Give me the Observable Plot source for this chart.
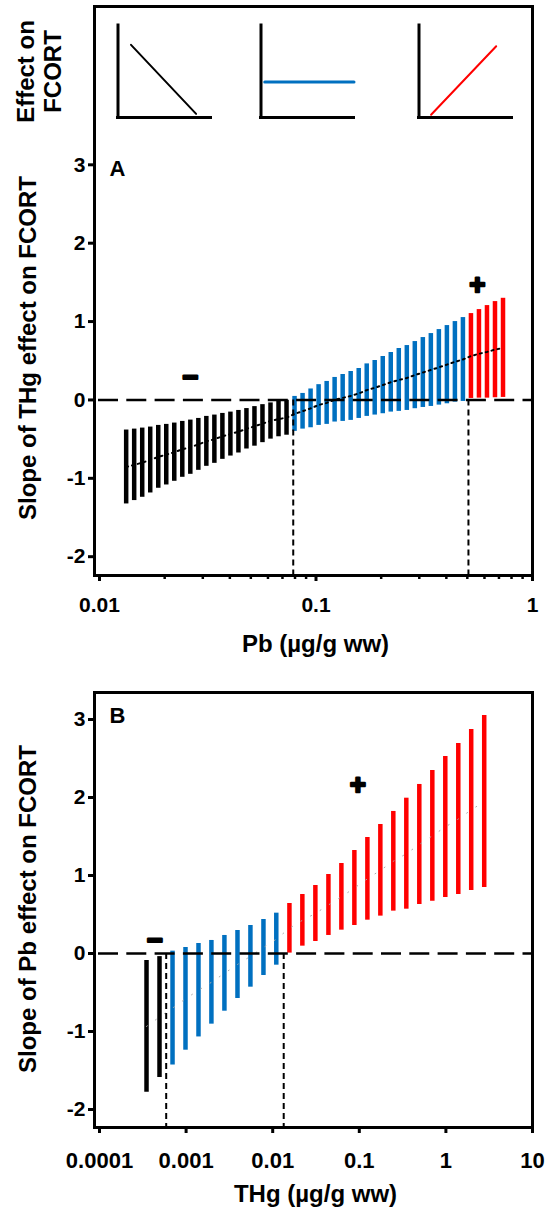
<!DOCTYPE html>
<html><head><meta charset="utf-8">
<script src="https://cdn.jsdelivr.net/npm/d3@7"></script>
<script src="https://cdn.jsdelivr.net/npm/@observablehq/plot@0.6"></script>
<style>
body{margin:0;background:#fff;}
#wrap{position:relative;width:551px;height:1213px;font-family:"Liberation Sans",Arial,sans-serif;}
#wrap > svg{position:absolute;}
</style></head><body><div id="wrap"></div>
<script>
// ---------- Panel A: slope of THg effect vs Pb ----------
const pbA = [0.01328,0.01446,0.01575,0.01715,0.01868,0.02034,0.02215,0.02412,0.02627,0.02861,
  0.03115,0.03393,0.03695,0.04024,0.04382,0.04772,0.05197,0.05659,0.06163,0.06712,
  0.07309,0.0796,0.08668,0.0944,0.1028,0.112,0.1219,0.1328,0.1446,0.1575,
  0.1715,0.1867,0.2034,0.2215,0.2412,0.2627,0.286,0.3115,0.3392,0.3694,
  0.4023,0.4381,0.4771,0.5196,0.5658,0.6162,0.671,0.7308];
const hiA = [-0.384,-0.372,-0.359,-0.346,-0.325,-0.312,-0.295,-0.274,-0.257,-0.236,
  -0.210,-0.193,-0.172,-0.155,-0.134,-0.110,-0.085,-0.060,-0.038,-0.018,
  -0.004,0.045,0.083,0.140,0.195,0.236,0.287,0.325,0.363,0.401,
  0.460,0.503,0.554,0.605,0.656,0.694,0.745,0.796,0.847,0.898,
  0.949,1.000,1.051,1.102,1.153,1.204,1.255,1.297];
const loA = [-1.327,-1.284,-1.242,-1.187,-1.127,-1.085,-1.038,-0.987,-0.949,-0.898,
  -0.847,-0.809,-0.758,-0.716,-0.677,-0.626,-0.590,-0.545,-0.500,-0.470,
  -0.450,-0.401,-0.372,-0.355,-0.325,-0.312,-0.282,-0.274,-0.261,-0.236,
  -0.210,-0.193,-0.176,-0.155,-0.146,-0.134,-0.112,-0.096,-0.083,-0.066,
  -0.049,-0.028,-0.019,0.019,0.023,0.023,0.028,0.032];
const cutA = [0.0785, 0.506];
const xTicksA = [0.01, 0.1, 1];
const xMinorA = [0.02,0.03,0.04,0.05,0.06,0.07,0.08,0.09,0.2,0.3,0.4,0.5,0.6,0.7,0.8,0.9];
const signsA = [{x:0.0263, y:0.287, t:"\u2212"}, {x:0.557, y:1.467, t:"+"}];

// ---------- Panel B: slope of Pb effect vs THg ----------
const thgB = [0.000349,0.000493,0.000697,0.000984,0.00139,0.00196,0.00277,0.00392,0.00553,0.00782,
  0.0110,0.0156,0.0220,0.0311,0.0440,0.0621,0.0877,0.124,0.175,0.247,
  0.349,0.493,0.697,0.984,1.39,1.96,2.77];
const hiB = [-0.09,-0.04,0.03,0.077,0.128,0.167,0.231,0.295,0.359,0.436,
  0.517,0.641,0.756,0.872,1.013,1.154,1.32,1.487,1.654,1.821,
  1.991,2.167,2.346,2.526,2.692,2.872,3.051];
const loB = [-1.78,-1.59,-1.43,-1.24,-1.07,-0.906,-0.74,-0.577,-0.432,-0.282,
  -0.15,0.005,0.094,0.154,0.231,0.299,0.359,0.427,0.479,0.543,
  0.568,0.628,0.671,0.718,0.756,0.808,0.846];
const cutB = [0.000589, 0.0134];
const xTicksB = [0.0001, 0.001, 0.01, 0.1, 1, 10];
const signsB = [{x:0.000437, y:0.173, t:"\u2212"}, {x:0.0961, y:2.154, t:"+"}];

const yTicks = [-2,-1,0,1,2,3];

// ---------- icons ----------
const iconDown = [{t:0.14, v:0.79}, {t:0.84, v:0.04}];
const iconFlat = [{t:0.04, v:0.385}, {t:1.0, v:0.385}];
const iconUp = [{t:0.13, v:0.03}, {t:0.83, v:0.775}];

const FONT = "Liberation Sans, Arial, Helvetica, sans-serif";
const sigOf = d => d.hi < 0 ? "neg" : d.lo > 0 ? "pos" : "ns";
const colorScale = {domain:["neg","ns","pos"], range:["#000000","#0070C0","#FF0000"]};

const dataA = pbA.map((x,i) => ({x, lo: loA[i], hi: hiA[i]})).map(d => ({...d, s: sigOf(d)}));
const dataB = thgB.map((x,i) => ({x, lo: loB[i], hi: hiB[i]})).map(d => ({...d, s: sigOf(d)}));

function panel({data, cuts, xDomain, xTicks, xMinor, yDomain, height, marginTop, marginBottom,
                 signs, tickPad, xTitle, yTitle, yTitleDy, letter, letterDy, xTitleDy, dotted, xFont}) {
  const marks = [
    Plot.ruleX(data, {x:"x", y1:"lo", y2:"hi", stroke:"s", strokeWidth:4.5}),
    Plot.line(data, {x:"x", y: d => (d.lo + d.hi) / 2, ...dotted}),
    Plot.ruleY([0], {stroke:"#000", strokeWidth:2.5, strokeDasharray:"20,8.3", strokeDashoffset:-4}),
    Plot.ruleX(cuts, {y1: 0, y2: yDomain[0], stroke:"#000", strokeWidth:2, strokeDasharray:"6,4"}),
    Plot.frame({stroke:"#000", strokeWidth:3}),
    Plot.axisY({ticks: yTicks, tickSize:6, tickPadding:3, tickFormat: d => String(d),
      strokeWidth:3, fontSize:21, fontWeight:"bold", label:null}),
    Plot.axisX({ticks: xTicks, tickSize:6, tickPadding: tickPad, tickFormat: d => String(d),
      strokeWidth:3, fontSize:xFont, fontWeight:"bold", label:null}),
    Plot.text(signs, {x:"x", y:"y", text:"t", fontSize:27, fontWeight:"bold", fill:"#000",
      stroke:"#000", strokeWidth: 2.5}),
    Plot.text([yTitle], {frameAnchor:"left", dx:-66, dy:yTitleDy, rotate:-90, fontSize:24,
      fontWeight:"bold", textAnchor:"middle", lineAnchor:"middle"}),
    Plot.text([xTitle], {frameAnchor:"bottom", dx:2, dy:xTitleDy, fontSize:24,
      fontWeight:"bold", textAnchor:"middle", lineAnchor:"middle"}),
    Plot.text([letter], {frameAnchor:"top-left", dx:15, dy:letterDy, fontSize:22,
      fontWeight:"bold", textAnchor:"start", lineAnchor:"top"})
  ];
  if (xMinor) marks.push(Plot.axisX({ticks: xMinor, tickSize:4, text:null, strokeWidth:2.5, label:null}));
  return Plot.plot({
    width: 551, height, marginLeft: 94, marginRight: 19, marginTop, marginBottom,
    x: {type:"log", domain: xDomain},
    y: {domain: yDomain},
    color: colorScale,
    style: {fontFamily: FONT, fontWeight:"bold", fontSize:"20px", color:"#000",
            background:"transparent", overflow:"visible"},
    marks
  });
}

const wrap = document.getElementById("wrap");

const svgA = panel({
  data: dataA, cuts: cutA, xDomain: [0.009482, 1], xTicks: xTicksA, xMinor: xMinorA,
  yDomain: [-2.24, 5.02], height: 660, marginTop: 6, marginBottom: 85,
  signs: signsA, tickPad: 16, xTitle: "Pb (\u00b5g/g ww)", yTitle: "Slope of THg effect on FCORT",
  yTitleDy: 57, letter: "A", letterDy: 154, xTitleDy: 69, xFont: 21,
  dotted: {stroke:"#000", strokeWidth:2, strokeDasharray:"2,4"}
});
svgA.style.left = "0px"; svgA.style.top = "0px";
wrap.appendChild(svgA);

// "Effect on / FCORT" label beside the icon row
const effA = Plot.plot({
  width: 80, height: 140, margin: 0, x:{axis:null, domain:[0,1]}, y:{axis:null, domain:[0,1]},
  style:{fontFamily: FONT, fontWeight:"bold", background:"transparent", overflow:"visible"},
  marks: [
    Plot.text(["Effect on"], {frameAnchor:"top-left", dx:26, dy:71, rotate:-90, fontSize:24,
      fontWeight:"bold", textAnchor:"middle", lineAnchor:"middle"}),
    Plot.text(["FCORT"], {frameAnchor:"top-left", dx:53, dy:71, rotate:-90, fontSize:24,
      fontWeight:"bold", textAnchor:"middle", lineAnchor:"middle"})
  ]
});
effA.style.left = "0px"; effA.style.top = "0px";
wrap.appendChild(effA);

function icon(lineData, color, w, left) {
  const s = Plot.plot({
    width: 96, height: 96, margin: 0,
    x: {domain:[0,1], range:[1.5, 94.5], axis:null},
    y: {domain:[0,1], range:[94, 2], axis:null},
    style: {background:"transparent", overflow:"visible"},
    marks: [
      Plot.ruleX([0], {y1:0, y2:1, stroke:"#000", strokeWidth:3, strokeLinecap:"square"}),
      Plot.ruleY([0], {x1:0, x2:1, stroke:"#000", strokeWidth:3, strokeLinecap:"square"}),
      Plot.line(lineData, {x:"t", y:"v", stroke: color, strokeWidth: w})
    ]
  });
  s.style.left = left + "px"; s.style.top = "23px";
  wrap.appendChild(s);
}
icon(iconDown, "#000000", 2, 115.5);
icon(iconFlat, "#0070C0", 3, 258.8);
icon(iconUp, "#FF0000", 2, 416.8);

const svgB = panel({
  data: dataB, cuts: cutB, xDomain: [8.755e-5, 10], xTicks: xTicksB, xMinor: null,
  yDomain: [-2.231, 3.346], height: 553, marginTop: 32, marginBottom: 86,
  signs: signsB, tickPad: 19, xTitle: "THg (\u00b5g/g ww)", yTitle: "Slope of Pb effect on FCORT",
  yTitleDy: -1, letter: "B", letterDy: 15, xTitleDy: 67, xFont: 22,
  dotted: {stroke:"#aaa", strokeWidth:1, strokeDasharray:"1,10"}
});
svgB.style.left = "0px"; svgB.style.top = "660px";
wrap.appendChild(svgB);
</script></body></html>
